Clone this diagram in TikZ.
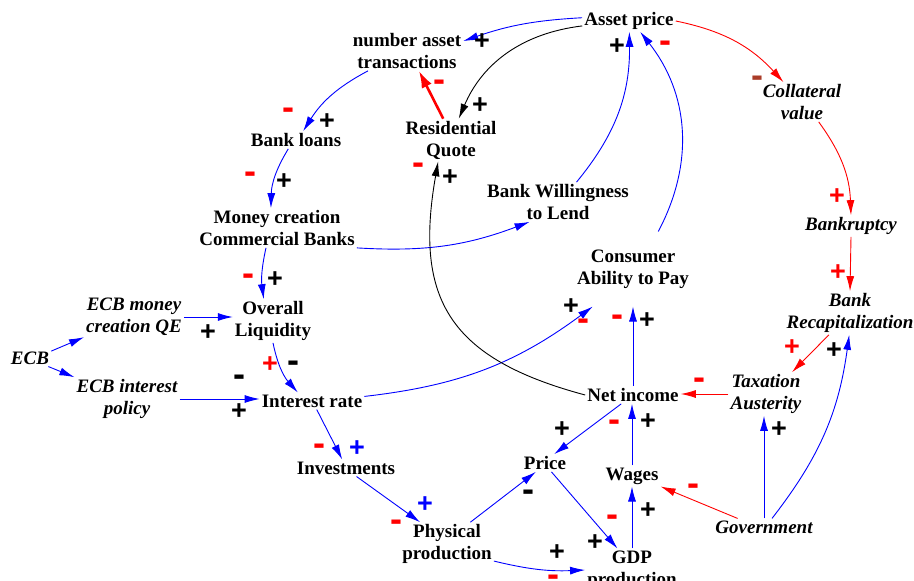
\documentclass[tikz,border=0pt]{standalone}
\usepackage{fontspec}
\setmainfont{Liberation Serif}
\newfontfamily\signfont{Liberation Sans}
\usetikzlibrary{arrows.meta}
\definecolor{brick}{RGB}{170,60,40}

\begin{document}
\begin{tikzpicture}[
x=1pt, y=1pt,
var/.style={align=center, font=\fontsize{19}{22}\selectfont\bfseries, inner sep=2pt},
exo/.style={var, font=\fontsize{19}{22}\selectfont\bfseries\itshape},
cld/.style={-{Latex[length=15pt,width=8pt]}, line width=0.9pt},
poslink/.style={cld, blue},
neglink/.style={cld, red},
blklink/.style={cld, black},
negthick/.style={-{Latex[length=17pt,width=11pt]}, red, line width=2.6pt},
plussign/.style={font=\signfont\bfseries\fontsize{27}{27}\selectfont, inner sep=0pt},
minussign/.style={font=\signfont\bfseries\fontsize{36}{36}\selectfont, inner sep=0pt, yshift=-4pt}
]
\useasboundingbox (0,0) rectangle (914,-581);

% variables
\node[var] (ap) at (629,-21) {Asset price};
\node[var] (nat) at (407,-51) {number asset\\transactions};
\node[var] (rq) at (451,-140) {Residential\\Quote};
\node[var] (bl) at (296,-140) {Bank loans};
\node[var] (mc) at (277,-228) {Money creation\\Commercial Banks};
\node[var] (bw) at (558,-202) {Bank Willingness\\to Lend};
\node[exo] (cv) at (802,-102) {Collateral\\value};
\node[exo] (bk) at (851,-226) {Bankruptcy};
\node[exo] (br) at (850,-313) {Bank\\Recapitalization};
\node[var, inner ysep=18pt] (ca) at (633,-269) {Consumer\\Ability to Pay};
\node[var] (ol) at (273,-321) {Overall\\Liquidity};
\node[exo] (qe) at (134,-317) {ECB money\\creation QE};
\node[exo] (ecb) at (30,-358) {ECB};
\node[exo] (ip) at (127,-399) {ECB interest\\policy};
\node[var] (ir) at (312,-401) {Interest rate};
\node[var] (ni) at (633,-395) {Net income};
\node[exo] (ta) at (766,-394) {Taxation\\Austerity};
\node[var] (inv) at (346,-468) {Investments};
\node[var] (pr) at (545,-463) {Price};
\node[var] (wg) at (632,-476) {Wages};
\node[var] (pp) at (447,-544) {Physical\\production};
\node[var] (gdp) at (632,-570) {GDP\\production};
\node[exo] (gov) at (764,-527) {Government};

% links
\draw[poslink] (ap.176) to[bend right=8] (nat.10);
\draw[blklink] (ap.186) to[bend right=30] (rq.70);
\draw[negthick] (rq.110) -- (nat.-59);
\draw[poslink] (nat.-153) to[bend right=15] (bl.51);
\draw[poslink] (bl.-131) to[bend right=15] (mc.107);
\draw[poslink] (mc.south east) to[bend right=12] (bw.-145);
\draw[poslink] (mc.-119) to[bend right=10] (ol.113);
\draw[poslink] (ecb.18) -- (qe.-158);
\draw[poslink] (ecb.-25) -- (ip.north west);
\draw[poslink] (qe.east) -- (qe.east -| ol.west);
\draw[poslink] (ip.east) -- (ip.east -| ir.west);
\draw[poslink] (ol.south) to[bend right=15] (ir.149);
\draw[poslink] (ir.5) to[bend right=15] (ca.-137);
\draw[blklink] (ni.west) to[out=165,in=-100,looseness=1.3] (rq.-121);
\draw[poslink] (bw.47) to[bend right=20] (ap.-88);
\draw[poslink] (ca.56) to[bend right=33] (ap.-44);
\draw[neglink] (ap.east) to[bend left=18] (cv.133);
\draw[neglink] (cv.-50) to[bend left=17] (bk.north);
\draw[neglink] (bk.south) -- (br.north);
\draw[neglink] (br.-134) -- (ta.40);
\draw[neglink] (ta.west) -- (ta.west -| ni.east);
\draw[poslink] (ni.north) -- (ni.north |- ca.south);
\draw[poslink] (ni.-143) -- (pr.44);
\draw[poslink] (wg.north) -- (wg.north |- ni.south);
\draw[poslink] (pp.43) -- (pr.-136);
\draw[poslink] (inv.-39) -- (pp.141);
\draw[poslink] (ir.-61) -- (inv.114);
\draw[poslink] (pr.-54) -- (gdp.124);
\draw[poslink] (pp.-20) to[bend right=8] (gdp.west);
\draw[poslink] (gdp.north) -- (wg.south);
\draw[neglink] (gov.162) -- (wg.south east);
\draw[poslink] (gov.north) -- (gov.north |- ta.south);
\draw[poslink] (gov.47) to[bend right=15] (br.-92);

% polarity signs
\foreach \sx/\sy/\sc [count=\i] in {482/42/black, 617/47/black, 480/106/black,
  327/122/black, 450/178/black, 284/182/black, 275/280/black, 208/333/black,
  270/365/red, 239/412/black, 571/307/black, 647/321/black, 837/197/red,
  838/273/red, 792/348/red, 834/351/black, 562/430/black, 648/422/black,
  357/449/blue, 425/505/blue, 648/511/black, 595/543/black, 557/553/black,
  779/430/black}
  \node[plussign, text=\sc] (p\i) at (\sx,-\sy) {+};
\foreach \sx/\sy/\sc [count=\i] in {665/43/red, 439/82/red, 288/110/red,
  418/165/red, 250/174/red, 248/276/red, 293/363/black, 239/377/black,
  583/321/red, 617/317/red, 699/380/red, 757/78/brick, 614/422/red,
  319/446/red, 396/522/red, 528/492/black, 612/517/red, 693/486/red,
  553/577/red}
  \node[minussign, text=\sc] (m\i) at (\sx,-\sy) {-};
\end{tikzpicture}
\end{document}
